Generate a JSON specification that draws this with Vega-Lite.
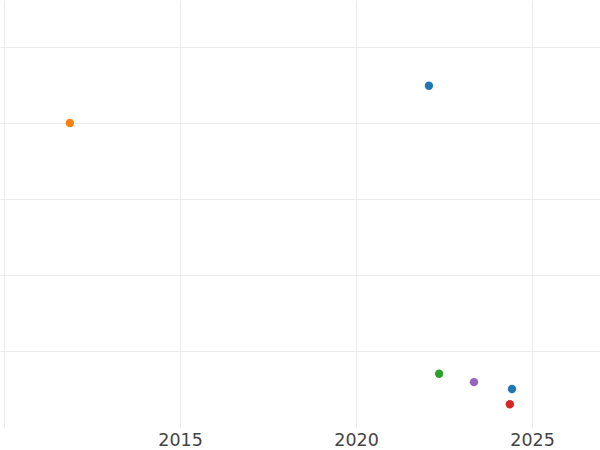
{
  "$schema": "https://vega.github.io/schema/vega-lite/v6.json",
  "width": 600,
  "height": 427,
  "padding": {"left": 0, "top": 0, "right": 0, "bottom": 23},
  "autosize": {"type": "none"},
  "background": "white",
  "config": {"view": {"stroke": null}},
  "data": {"values": [
    {"year": 2011.87, "value": 4.0, "group": "B"},
    {"year": 2022.07, "value": 4.49, "group": "A"},
    {"year": 2022.36, "value": 0.7, "group": "C"},
    {"year": 2023.35, "value": 0.59, "group": "E"},
    {"year": 2024.43, "value": 0.5, "group": "A"},
    {"year": 2024.37, "value": 0.3, "group": "D"}
  ]},
  "mark": {"type": "point", "filled": true, "opacity": 1, "size": 70},
  "encoding": {
    "x": {
      "field": "year", "type": "quantitative",
      "scale": {"domain": [2009.886, 2026.93], "nice": false, "zero": false},
      "axis": {"title": null, "values": [2010, 2015, 2020, 2025], "format": "d", "labelExpr": "datum.value == 2010 ? '' : datum.label", "domain": false, "ticks": false, "labelFontSize": 17.5, "labelFont": "DejaVu Sans", "labelColor": "#444444", "labelPadding": 4, "gridColor": "#ebebeb", "gridWidth": 1, "labelFlush": false}
    },
    "y": {
      "field": "value", "type": "quantitative",
      "scale": {"domain": [0, 5.618], "nice": false},
      "axis": {"title": null, "values": [1, 2, 3, 4, 5], "labels": false, "domain": false, "ticks": false, "gridColor": "#ebebeb", "gridWidth": 1}
    },
    "color": {
      "field": "group", "type": "nominal", "legend": null,
      "scale": {"domain": ["A", "B", "C", "D", "E"], "range": ["#1f77b4", "#ff7f0e", "#2ca02c", "#d62728", "#9467bd"]}
    }
  }
}
